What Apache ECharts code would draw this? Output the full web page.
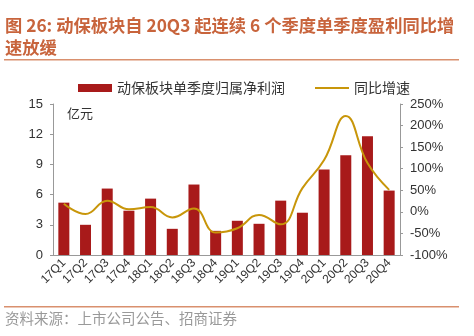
<!DOCTYPE html>
<html><head><meta charset="utf-8">
<script src="https://cdn.jsdelivr.net/npm/echarts@6/dist/echarts.min.js"></script>
<style>html,body{margin:0;padding:0;background:#fff}#c{width:474px;height:336px}</style>
</head><body><div id="c"></div>
<script>
const categories = ['17Q1','17Q2','17Q3','17Q4','18Q1','18Q2','18Q3','18Q4','19Q1','19Q2','19Q3','19Q4','20Q1','20Q2','20Q3','20Q4'];
const profit = [5.2, 3.0, 6.6, 4.4, 5.6, 2.6, 7.0, 2.4, 3.4, 3.1, 5.4, 4.2, 8.5, 9.9, 11.8, 6.4];
const growth = [19, -5, 26, 6, 11, -13, 8, -48, -38, -7, -29, 55, 120, 222, 113, 51];
const leftTicks = {min: 0, max: 15, interval: 3};
const rightTicks = {min: -100, max: 250, interval: 50};
const barName = '动保板块单季度归属净利润';
const lineName = '同比增速';

const chart = echarts.init(document.getElementById('c'));
const font = '"Noto Sans CJK SC", sans-serif';
chart.setOption({
  animation: false,
  textStyle: {fontFamily: font},
  legend: [{
    top: 76, left: 73, itemWidth: 34, itemHeight: 8,
    textStyle: {fontSize: 14, color: '#333', fontFamily: font},
    data: [{name: barName, icon: 'rect'}]
  }, {
    top: 76, left: 310, itemWidth: 34, itemHeight: 2,
    textStyle: {fontSize: 14, color: '#333', fontFamily: font},
    data: [{name: lineName, icon: 'rect'}]
  }],
  grid: {left: 53, right: 74, top: 104, bottom: 81},
  xAxis: {
    type: 'category', data: categories,
    axisLine: {lineStyle: {color: '#999'}},
    axisTick: {inside: true, length: 3, lineStyle: {color: '#999'}},
    axisLabel: {rotate: 45, fontSize: 12, color: '#333', fontFamily: 'Liberation Sans, Arial', margin: 6, interval: 0}
  },
  yAxis: [{
    type: 'value', min: leftTicks.min, max: leftTicks.max, interval: leftTicks.interval,
    name: '亿元', nameLocation: 'end', nameGap: -16,
    nameTextStyle: {fontSize: 13, color: '#333', align: 'left', padding: [0,0,0,14]},
    axisLine: {show: true, lineStyle: {color: '#999'}},
    axisTick: {show: true, length: 3, lineStyle: {color: '#999'}},
    splitLine: {show: false},
    axisLabel: {fontSize: 13, color: '#333', fontFamily: 'Liberation Sans, Arial', margin: 10}
  }, {
    type: 'value', position: 'right', min: rightTicks.min, max: rightTicks.max, interval: rightTicks.interval,
    axisLine: {show: true, lineStyle: {color: '#999'}},
    axisTick: {show: true, length: 3, lineStyle: {color: '#999'}},
    splitLine: {show: false},
    axisLabel: {fontSize: 13, color: '#333', fontFamily: 'Liberation Sans, Arial', formatter: '{value}%', margin: 10}
  }],
  series: [{
    name: barName, type: 'bar', data: profit, barWidth: 11,
    itemStyle: {color: '#A81A1A'}
  }, {
    name: lineName, type: 'line', yAxisIndex: 1, data: growth, smooth: 0.45,
    symbol: 'none', lineStyle: {color: '#C8960A', width: 2}, itemStyle: {color: '#C8960A'}
  }],
  graphic: [
    {type: 'text', left: 5, top: 17, style: {text: '图 26: 动保板块自 20Q3 起连续 6 个季度单季度盈利同比增', fill: '#C8643C', font: 'bold 17.3px "Noto Sans CJK SC", sans-serif'}},
    {type: 'text', left: 5, top: 39, style: {text: '速放缓', fill: '#C8643C', font: 'bold 17.3px "Noto Sans CJK SC", sans-serif'}},
    {type: 'rect', shape: {x: 4, y: 59, width: 455, height: 1.5}, style: {fill: '#D9906E'}},
    {type: 'rect', shape: {x: 4, y: 306, width: 455, height: 1.5}, style: {fill: '#D9906E'}},
    {type: 'text', left: 5, top: 311, style: {text: '资料来源：上市公司公告、招商证券', fill: '#999', font: '14.5px "Noto Sans CJK SC", sans-serif'}}
  ]
});
</script></body></html>
